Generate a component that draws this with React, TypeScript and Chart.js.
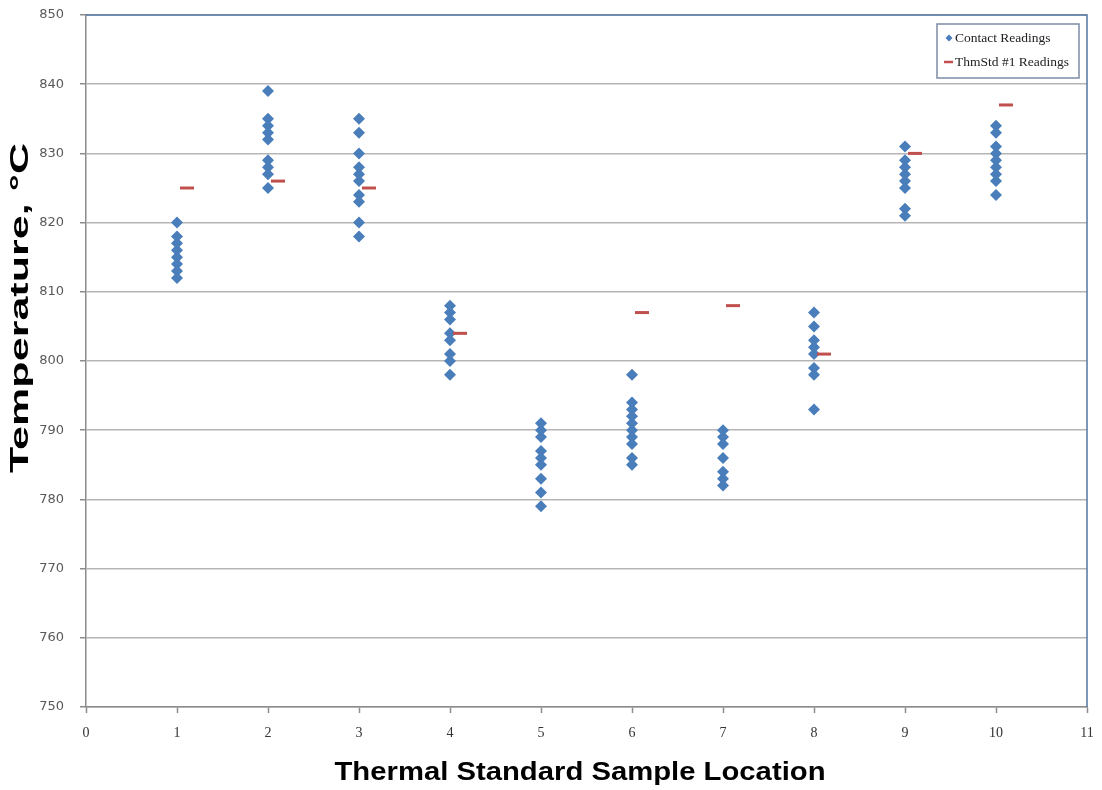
import React, { useEffect, useRef } from "react";
import { Chart, registerables } from "chart.js";

Chart.register(...registerables);

// ---- Data ----
const contactLocations = [1, 2, 3, 4, 5, 6, 7, 8, 9, 10];
const loc1Readings = [820, 818, 817, 816, 815, 814, 813, 812];
const loc2Readings = [839, 835, 834, 833, 832, 829, 828, 827, 825];
const loc3Readings = [835, 833, 830, 828, 827, 826, 824, 823, 820, 818];
const loc4Readings = [808, 807, 806, 804, 803, 801, 800, 798];
const loc5Readings = [791, 790, 789, 787, 786, 785, 783, 781, 779];
const loc6Readings = [798, 794, 793, 792, 791, 790, 789, 788, 786, 785];
const loc7Readings = [790, 789, 788, 786, 784, 783, 782];
const loc8Readings = [807, 805, 803, 802, 801, 799, 798, 793];
const loc9Readings = [831, 829, 828, 827, 826, 825, 822, 821];
const loc10Readings = [834, 833, 831, 830, 829, 828, 827, 826, 824];
const contactReadings = [
  loc1Readings, loc2Readings, loc3Readings, loc4Readings, loc5Readings,
  loc6Readings, loc7Readings, loc8Readings, loc9Readings, loc10Readings,
];

const thmStdX = [1.11, 2.11, 3.11, 4.11, 6.11, 7.11, 8.11, 9.11, 10.11];
const thmStdReadings = [825, 826, 825, 804, 807, 808, 801, 830, 837];

const xMin = 0;
const xMax = 11;
const yMin = 750;
const yMax = 850;
const yStep = 10;

const contactLabel = "Contact Readings";
const thmStdLabel = "ThmStd #1 Readings";
const xTitle = "Thermal Standard Sample Location";
const yTitle = "Temperature, °C";

const BLUE = "#4a7ebb";
const RED = "#c0504d";

function stretchedText(
  ctx: CanvasRenderingContext2D,
  text: string,
  x: number,
  y: number,
  font: string,
  targetLen: number,
  rotate: boolean
) {
  ctx.save();
  ctx.font = font;
  const w = ctx.measureText(text).width;
  ctx.translate(x, y);
  if (rotate) ctx.rotate(-Math.PI / 2);
  ctx.scale(targetLen / w, 1);
  ctx.textAlign = "center";
  ctx.textBaseline = "alphabetic";
  ctx.fillStyle = "#000";
  ctx.fillText(text, 0, 0);
  ctx.restore();
}

const overlayPlugin = {
  id: "overlay",
  afterDraw(chart: any) {
    const ctx: CanvasRenderingContext2D = chart.ctx;
    const a = chart.chartArea;
    ctx.save();
    // top & right plot border
    ctx.strokeStyle = "#5677a4";
    ctx.lineWidth = 1.5;
    ctx.beginPath();
    ctx.moveTo(a.left, a.top);
    ctx.lineTo(a.right, a.top);
    ctx.lineTo(a.right, a.bottom);
    ctx.stroke();

    // legend box
    const lw = 142;
    const lh = 54;
    const lx = a.right - 8 - lw;
    const ly = a.top + 9;
    ctx.fillStyle = "#ffffff";
    ctx.fillRect(lx, ly, lw, lh);
    ctx.strokeStyle = "#7d8ca8";
    ctx.lineWidth = 1.5;
    ctx.strokeRect(lx, ly, lw, lh);

    ctx.font = "13.5px 'Liberation Serif'";
    ctx.textAlign = "left";
    ctx.textBaseline = "middle";

    // item 1: diamond
    const r1y = ly + 14;
    const mx = lx + 12;
    ctx.fillStyle = BLUE;
    ctx.beginPath();
    ctx.moveTo(mx, r1y - 3.5);
    ctx.lineTo(mx + 3.5, r1y);
    ctx.lineTo(mx, r1y + 3.5);
    ctx.lineTo(mx - 3.5, r1y);
    ctx.closePath();
    ctx.fill();
    ctx.fillStyle = "#222";
    ctx.fillText(contactLabel, lx + 18, r1y);

    // item 2: dash
    const r2y = ly + 38;
    ctx.strokeStyle = RED;
    ctx.lineWidth = 2.5;
    ctx.beginPath();
    ctx.moveTo(mx - 5, r2y);
    ctx.lineTo(mx + 4, r2y);
    ctx.stroke();
    ctx.fillText(thmStdLabel, lx + 18, r2y);

    ctx.restore();

    // axis titles
    stretchedText(ctx, xTitle, 580, 780, "bold 25px 'Liberation Sans'", 491, false);
    stretchedText(ctx, yTitle, 28, 308, "bold 25px 'Liberation Sans'", 330, true);
  },
};

export default function App() {
  const ref = useRef<HTMLCanvasElement | null>(null);

  useEffect(() => {
    if (!ref.current) return;
    const contactPoints: { x: number; y: number }[] = [];
    contactLocations.forEach((loc, i) => {
      contactReadings[i].forEach((v) => contactPoints.push({ x: loc, y: v }));
    });
    const thmPoints = thmStdX.map((x, i) => ({ x, y: thmStdReadings[i] }));

    const chart = new Chart(ref.current, {
      type: "scatter",
      data: {
        datasets: [
          {
            label: contactLabel,
            data: contactPoints,
            pointStyle: "rectRot",
            pointRadius: 6,
            pointHoverRadius: 6,
            backgroundColor: BLUE,
            borderColor: BLUE,
            borderWidth: 0,
            order: 1,
          },
          {
            label: thmStdLabel,
            data: thmPoints,
            pointStyle: "line",
            pointRadius: 7,
            pointHoverRadius: 7,
            borderColor: RED,
            backgroundColor: RED,
            borderWidth: 3,
            order: 0,
          },
        ],
      },
      options: {
        responsive: false,
        animation: false,
        layout: { padding: { left: 0, top: 15, right: 15, bottom: 0 } },
        plugins: {
          legend: { display: false },
          tooltip: { enabled: false },
          title: { display: false },
        },
        scales: {
          x: {
            type: "linear",
            min: xMin,
            max: xMax,
            afterFit: (s: any) => {
              s.height = 83;
              s.paddingLeft = 0;
              s.paddingRight = 0;
            },
            ticks: {
              stepSize: 1,
              padding: 12,
              color: "#333",
              font: { family: "'Liberation Serif'", size: 14 },
            },
            grid: {
              drawOnChartArea: false,
              drawTicks: true,
              tickLength: 6,
              tickColor: "#8c8c8c",
              tickWidth: 1.5,
            },
            border: { display: true, color: "#8c8c8c", width: 1.5 },
            title: { display: false },
          },
          y: {
            type: "linear",
            min: yMin,
            max: yMax,
            afterFit: (s: any) => {
              s.width = 86;
              s.paddingTop = 0;
              s.paddingBottom = 0;
            },
            ticks: {
              stepSize: yStep,
              padding: 16,
              color: "#595959",
              font: { family: "'DejaVu Sans'", size: 13 },
            },
            grid: {
              color: "#b5b5b5",
              lineWidth: 1.5,
              drawTicks: true,
              tickLength: 6,
              tickColor: "#8c8c8c",
            },
            border: { display: true, color: "#8c8c8c", width: 1.5 },
            title: { display: false },
          },
        },
      },
      plugins: [overlayPlugin],
    });
    return () => chart.destroy();
  }, []);

  return (
    <div style={{ position: "absolute", left: 0, top: 0, width: 1102, height: 790, background: "#fff" }}>
      <canvas ref={ref} width={1102} height={790} />
    </div>
  );
}
